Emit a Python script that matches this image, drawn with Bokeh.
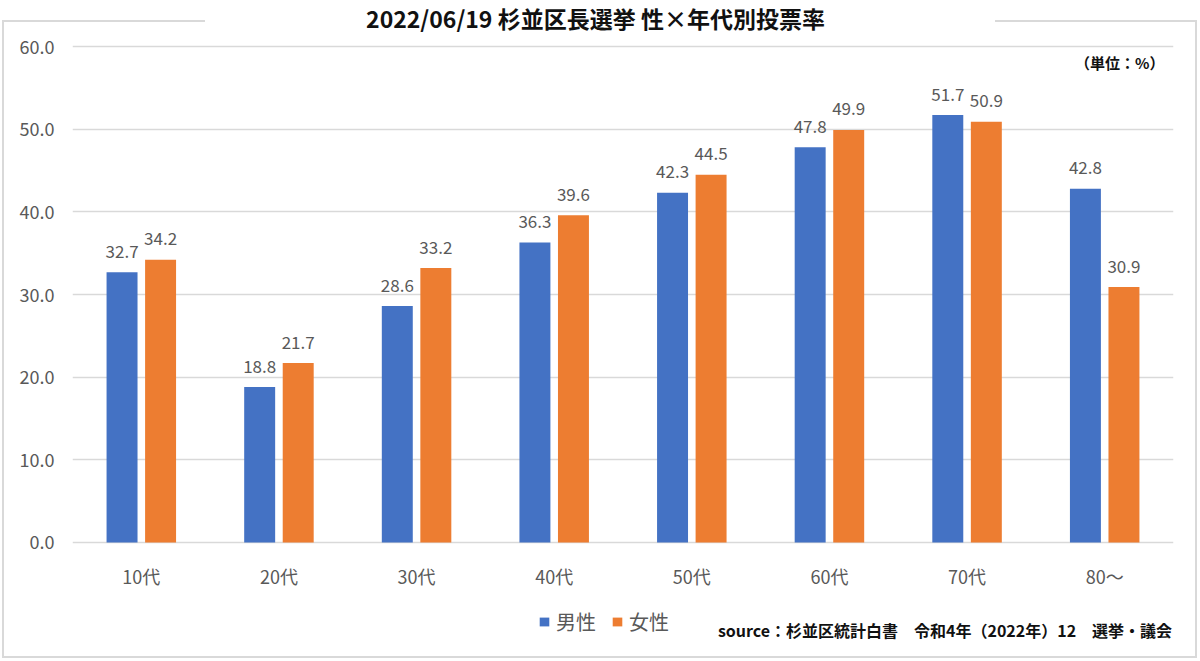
from bokeh.plotting import figure
from bokeh.models import (ColumnDataSource, FactorRange, Range1d, NumeralTickFormatter,
                          Legend, LegendItem, Label, FixedTicker, InlineStyleSheet)
from bokeh.transform import dodge
from bokeh.core.properties import value
from bokeh.embed import file_html
from bokeh.resources import INLINE

# ---- data ----
ages = ["10代", "20代", "30代", "40代", "50代", "60代", "70代", "80～"]
male = [32.7, 18.8, 28.6, 36.3, 42.3, 47.8, 51.7, 42.8]
female = [34.2, 21.7, 33.2, 39.6, 44.5, 49.9, 50.9, 30.9]
series_names = ["男性", "女性"]
y_ticks = [0, 10, 20, 30, 40, 50, 60]
title_text = "2022/06/19 杉並区長選挙 性×年代別投票率"
unit_text = "（単位：%）"
source_text = "source：杉並区統計白書　令和4年（2022年）12　選挙・議会"

FONT = "Noto Sans CJK JP"
GRAY = "#595959"
BLUE = "#4472C4"
ORANGE = "#ED7D31"

src = ColumnDataSource(dict(
    age=ages, male=male, female=female,
    ml=[f"{v:.1f}" for v in male], fl=[f"{v:.1f}" for v in female],
))

border_css = """
:host { position: relative; overflow: visible; }
:host::after {
  content: ""; position: absolute; left: 2px; top: 20px; width: 1195px; height: 638px;
  box-sizing: border-box; border: 2px solid #d9d9d9; border-top: none;
  pointer-events: none;
}
:host::before {
  content: ""; position: absolute; left: 2px; top: 20px; width: 1195px; height: 2px;
  background: linear-gradient(to right, #d9d9d9 0px, #d9d9d9 203px, transparent 203px,
              transparent 993px, #d9d9d9 993px, #d9d9d9 100%);
  pointer-events: none; z-index: 1;
}
"""

# plot frame covers the full height; value 60 sits at y=46 px and 0 at y=542 px
p = figure(x_range=FactorRange(*ages), y_range=Range1d(-12.46, 65.565),
           width=1184, height=645, output_backend="svg", toolbar_location=None,
           min_border_left=72, min_border_right=11, min_border_top=0,
           min_border_bottom=0, outline_line_color=None, title_location=None,
           stylesheets=[InlineStyleSheet(css=border_css)])
p.background_fill_color = "white"
p.border_fill_color = None

OFF = 0.14
BW = 0.225
r1 = p.vbar(x=dodge("age", -OFF, range=p.x_range), top="male", width=BW,
            source=src, fill_color=BLUE, line_color=None)
r2 = p.vbar(x=dodge("age", OFF, range=p.x_range), top="female", width=BW,
            source=src, fill_color=ORANGE, line_color=None)

for col, lab, off in (("male", "ml", -OFF), ("female", "fl", OFF)):
    p.text(x=dodge("age", off, range=p.x_range), y=col, text=lab, source=src,
           text_align="center", text_baseline="alphabetic", y_offset=-21,
           text_font=value(FONT), text_font_size="17px", text_color=GRAY)

# axes
p.yaxis.ticker = FixedTicker(ticks=y_ticks)
p.yaxis.formatter = NumeralTickFormatter(format="0.0")
p.xaxis.fixed_location = 0
for ax in (p.xaxis, p.yaxis):
    ax.axis_line_color = None
    ax.major_tick_line_color = None
    ax.minor_tick_line_color = None
    ax.major_label_text_font = FONT
    ax.major_label_text_color = GRAY
p.yaxis.major_label_text_font_size = "18px"
p.xaxis.major_label_text_font_size = "18px"
p.yaxis.major_label_standoff = 12
p.xaxis.major_label_standoff = 15
p.xgrid.grid_line_color = None
p.ygrid.ticker = FixedTicker(ticks=y_ticks)
p.ygrid.grid_line_color = "#d9d9d9"
p.ygrid.grid_line_width = 1.5

# legend
legend = Legend(items=[LegendItem(label=series_names[0], renderers=[r1]),
                       LegendItem(label=series_names[1], renderers=[r2])],
                location=(466, 9), orientation="horizontal",
                border_line_color=None, background_fill_alpha=0,
                padding=0, margin=0, spacing=15, glyph_width=12, glyph_height=11,
                label_standoff=6, label_height=20,
                label_text_font=FONT, label_text_font_size="20px",
                label_text_color=GRAY)
p.add_layout(legend)

p.add_layout(Label(x=3.80, y=63.45, text=title_text, text_align="center",
                   text_baseline="middle", text_font=FONT, text_font_size="23px",
                   text_font_style="bold", text_color="#111111"))
p.add_layout(Label(x=7.935, y=58.04, text=unit_text, text_align="right",
                   text_baseline="middle", text_font=FONT, text_font_size="15px",
                   text_font_style="bold", text_color="#111111"))
p.add_layout(Label(x=7.99, y=-10.55, text=source_text, text_align="right",
                   text_baseline="middle", text_font=FONT, text_font_size="16px",
                   text_font_style="bold", text_color="#111111"))

open("out.html", "w").write(file_html(p, INLINE))
